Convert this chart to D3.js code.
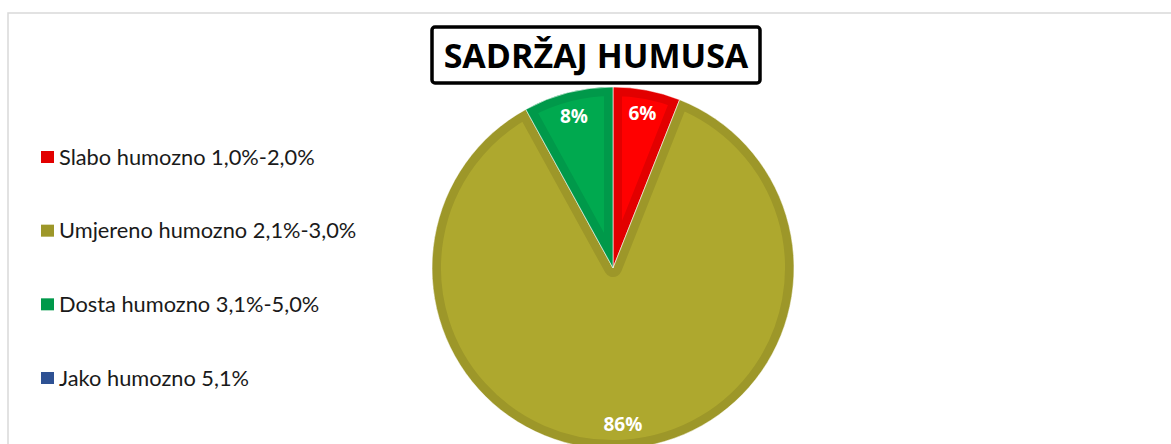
<!DOCTYPE html>
<html>
<head>
<meta charset="utf-8">
<script src="https://cdn.jsdelivr.net/npm/d3@7"></script>
<style>
  body { margin: 0; background: #ffffff; }
  svg { display: block; }
</style>
</head>
<body>
<div id="chart"></div>
<script>
// chart data
var categories = ["Slabo humozno 1,0%-2,0%", "Umjereno humozno 2,1%-3,0%", "Dosta humozno 3,1%-5,0%", "Jako humozno 5,1%"];
var values = [6, 86, 8, 0];
var fills = ["#ff0000", "#aea82e", "#00a94f", "#3a62a8"];
var borders = ["#e20000", "#9d9729", "#00994a", "#2e5193"];
var title = "SADRŽAJ HUMUSA";

var w = 1171, h = 444;
var cx = 613, cy = 268, radius = 181;

var svg = d3.select("#chart").append("svg")
  .attr("width", w).attr("height", h);

// outer chart frame (light grey)
svg.append("rect")
  .attr("x", 8).attr("y", 13).attr("width", w + 20).attr("height", h + 20)
  .attr("fill", "#ffffff").attr("stroke", "#d9d9d9").attr("stroke-width", 1.5);

// pie layout, starts at 12 o'clock going clockwise
var pie = d3.pie().sort(null).value(function(d) { return d.value; });
var slices = pie(categories.map(function(c, i) {
  return { name: c, value: values[i], fill: fills[i], border: borders[i] };
})).filter(function(d) { return d.value > 0; });

var arc = d3.arc().innerRadius(0).outerRadius(radius);
var labelArc = d3.arc().innerRadius(157).outerRadius(157);

var defs = svg.append("defs");
var g = svg.append("g").attr("transform", "translate(" + cx + "," + cy + ")");

// clip paths live in the user space of the slice (already translated)
slices.forEach(function(d, i) {
  defs.append("clipPath").attr("id", "clip" + i)
    .append("path").attr("d", arc(d));
});

var sl = g.selectAll(".slice").data(slices).enter().append("g").attr("class", "slice");

// fill and darker inner border (stroke clipped to the slice)
sl.append("path")
  .attr("d", arc)
  .attr("fill", function(d) { return d.data.fill; })
  .attr("stroke", function(d) { return d.data.border; })
  .attr("stroke-width", 18)
  .attr("stroke-linejoin", "round")
  .attr("clip-path", function(d, i) { return "url(#clip" + i + ")"; });

sl.append("path")
  .attr("d", arc)
  .attr("fill", "none")
  .attr("stroke", "#ffffff")
  .attr("stroke-opacity", 0.6)
  .attr("stroke-width", 1);

// percentage labels
var total = d3.sum(values);
sl.append("text")
  .attr("transform", function(d) { return "translate(" + labelArc.centroid(d) + ")"; })
  .attr("text-anchor", "middle")
  .attr("dy", "0.35em")
  .style("font-family", "'Open Sans', sans-serif")
  .style("font-weight", "bold")
  .style("font-size", "19px")
  .attr("fill", "#ffffff")
  .text(function(d) { return Math.round(d.value / total * 100) + "%"; });

// title box
var tg = svg.append("g");
tg.append("rect")
  .attr("x", 432).attr("y", 27).attr("width", 328).attr("height", 56)
  .attr("rx", 3)
  .attr("fill", "#ffffff").attr("stroke", "#000000").attr("stroke-width", 3.5);
tg.append("text")
  .attr("x", 596).attr("y", 68)
  .attr("text-anchor", "middle")
  .style("font-family", "'Open Sans', sans-serif")
  .style("font-weight", "bold")
  .style("font-size", "34px")
  .attr("fill", "#000000")
  .text(title);

// legend
var legend = svg.append("g").attr("transform", "translate(41,0)");
var ly = d3.scalePoint().domain(categories).range([157, 378]);
var items = legend.selectAll(".item").data(categories).enter().append("g")
  .attr("class", "item")
  .attr("transform", function(d) { return "translate(0," + ly(d) + ")"; });
items.append("rect")
  .attr("x", 0).attr("y", -6).attr("width", 13).attr("height", 12)
  .attr("fill", function(d, i) { return borders[i]; });
items.append("text")
  .attr("x", 18).attr("dy", "0.35em")
  .style("font-family", "Lato, sans-serif")
  .style("font-size", "21.8px")
  .attr("fill", "#1a1a1a")
  .text(function(d) { return d; });
</script>
</body>
</html>
